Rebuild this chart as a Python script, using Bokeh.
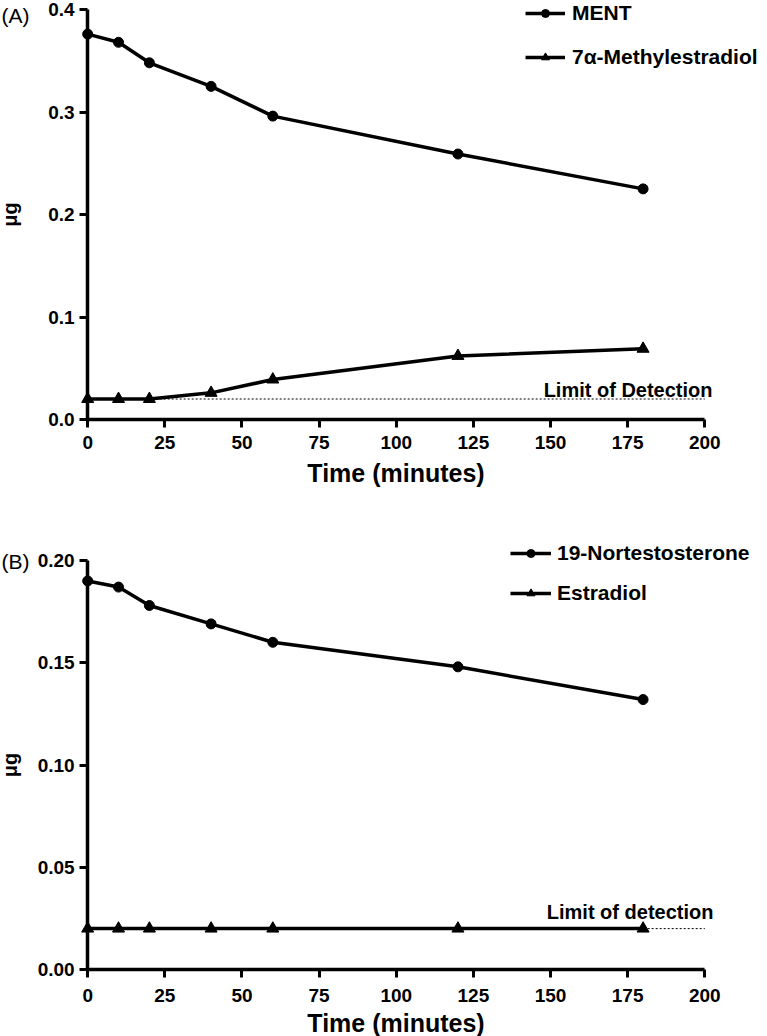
import math
from bokeh.plotting import figure
from bokeh.models import (Range1d, FixedTicker, PrintfTickFormatter, Legend,
                          LegendItem, Label)
from bokeh.layouts import column
from bokeh.embed import file_html
from bokeh.resources import INLINE

# ---------------- data ----------------
time_min = [0, 10, 20, 40, 60, 120, 180]
ment = [0.376, 0.368, 0.348, 0.325, 0.296, 0.259, 0.225]
methylestradiol = [0.020, 0.020, 0.020, 0.026, 0.039, 0.062, 0.069]
nortestosterone = [0.190, 0.187, 0.178, 0.169, 0.160, 0.148, 0.132]
estradiol = [0.020, 0.020, 0.020, 0.020, 0.020, 0.020, 0.020]
lod_x = [0, 200]
lod_y = [0.02, 0.02]
x_ticks = [0, 25, 50, 75, 100, 125, 150, 175, 200]
ya_ticks = [0.0, 0.1, 0.2, 0.3, 0.4]
yb_ticks = [0.00, 0.05, 0.10, 0.15, 0.20]

FONT = "Liberation Sans"
X_LO, X_HI = -28.25, 220.32


def make_panel(height, y_start, y_end, y_top, y_ticks, fmt, lab_so, title_so):
    p = figure(width=767, height=height, x_range=Range1d(X_LO, X_HI),
               y_range=Range1d(y_start, y_end), output_backend="svg",
               toolbar_location=None, min_border_left=0,
               min_border_right=0, min_border_top=0,
               min_border_bottom=0)
    p.outline_line_color = None
    p.xgrid.visible = False
    p.ygrid.visible = False
    p.background_fill_color = "white"
    p.border_fill_color = "white"

    xa = p.xaxis[0]
    xa.ticker = FixedTicker(ticks=x_ticks)
    xa.bounds = (0, 200)
    xa.fixed_location = 0
    xa.axis_label = "Time (minutes)"
    xa.axis_label_text_font = FONT
    xa.axis_label_text_font_style = "bold"
    xa.axis_label_text_font_size = "25px"
    xa.axis_label_text_color = "black"
    xa.axis_label_standoff = title_so
    xa.major_label_standoff = lab_so

    ya = p.yaxis[0]
    ya.ticker = FixedTicker(ticks=y_ticks)
    ya.formatter = PrintfTickFormatter(format=fmt)
    ya.bounds = (0, y_top)
    ya.fixed_location = 0
    ya.major_label_standoff = 5

    for ax in (xa, ya):
        ax.axis_line_width = 3.5
        ax.axis_line_color = "black"
        ax.major_tick_line_width = 3
        ax.major_tick_line_color = "black"
        ax.major_tick_out = 8
        ax.major_tick_in = 0
        ax.minor_tick_line_color = None
        ax.major_label_text_font = FONT
        ax.major_label_text_font_style = "bold"
        ax.major_label_text_font_size = "19px"
        ax.major_label_text_color = "black"
    return p


def add_series(p, y1, y2, name1, name2, loc, standoff, spacing, gw):
    p.line(lod_x, lod_y, line_width=1, line_color="black", line_dash="2 2")
    l1 = p.line(time_min, y1, line_width=3.5, line_color="black")
    s1 = p.scatter(time_min, y1, marker="circle", size=10, color="black")
    l2 = p.line(time_min, y2, line_width=3.5, line_color="black")
    s2 = p.scatter(time_min, y2, marker="triangle", size=12, color="black")
    leg = Legend(items=[LegendItem(label=name1, renderers=[l1, s1]),
                        LegendItem(label=name2, renderers=[l2, s2])],
                 location=loc, label_text_font=FONT,
                 label_text_font_style="bold", label_text_font_size="21px",
                 label_text_color="black",
                 glyph_width=gw, glyph_height=20, label_standoff=standoff,
                 spacing=spacing, padding=0, margin=0,
                 border_line_color=None, background_fill_alpha=0)
    p.add_layout(leg)


def add_text(p, x, y, text, size, bold=True, align="left", angle=0.0,
             baseline="alphabetic"):
    p.add_layout(Label(x=x, y=y, text=text, angle=angle, text_font=FONT,
                       text_font_style="bold" if bold else "normal",
                       text_font_size=size, text_color="black",
                       text_align=align, text_baseline=baseline))


# ---------------- panel A ----------------
# frame = whole figure: 0.4 at 9 px from top, 0.0 at 419 px, 81 px below
pA = make_panel(500, -0.07902, 0.40878, 0.4, ya_ticks, "%.1f", 8, 7)
add_series(pA, ment, methylestradiol, "MENT", "7α-Methylestradiol",
           (525, 431), 7, 20, 40)
add_text(pA, -27.9, 0.3941, "(A)", "21px", bold=False)
add_text(pA, -25.3, 0.2, "μg", "20px", align="center", angle=math.pi / 2)
add_text(pA, 202.5, 0.0283, "Limit of Detection", "20px", align="right")

# ---------------- panel B ----------------
pB = make_panel(536, -0.03276, 0.22934, 0.2, yb_ticks, "%.2f", 11, 4)
add_series(pB, nortestosterone, estradiol, "19-Nortestosterone", "Estradiol",
           (510, 431), 6, 16, 41)
add_text(pB, -27.9, 0.1995, "(B)", "21px", bold=False)
add_text(pB, -25.3, 0.1, "μg", "20px", align="center", angle=math.pi / 2)
add_text(pB, 202.8, 0.0279, "Limit of detection", "20px", align="right")

layout = column(pA, pB, spacing=0)

open("out.html", "w").write(file_html(layout, INLINE))
